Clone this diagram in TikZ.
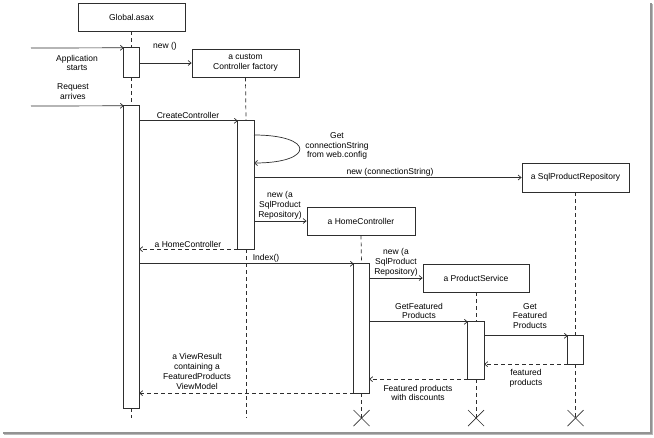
\documentclass[tikz,border=0pt]{standalone}
\usepackage{fontspec}
\setmainfont{Liberation Sans}
\usetikzlibrary{arrows.meta}
\definecolor{ln}{HTML}{2E2E2E}
\tikzset{
  obj/.style={draw=ln, line width=0.8pt, fill=white, rectangle, inner sep=0pt, align=center, font=\fontsize{8.5}{9.8}\selectfont},
  act/.style={draw=ln, line width=0.8pt, fill=white, rectangle, inner sep=0pt},
  life/.style={draw=ln, line width=0.7pt, dash pattern=on 4pt off 3pt},
  msg/.style={draw=ln, line width=0.7pt, -{Straight Barb[length=3pt,width=5pt]}},
  ret/.style={msg, dash pattern=on 4pt off 3pt},
  lbl/.style={align=center, inner sep=1pt, font=\fontsize{8.5}{9.8}\selectfont},
  xmark/.style={draw=ln, line width=0.7pt}
}
\begin{document}
\begin{tikzpicture}[x=1pt,y=-1pt]
\useasboundingbox (0,0) rectangle (654,437);
% frame shadow
\fill[gray!85] (650,3) rectangle (651.5,434);
\fill[gray!55] (651.5,4) rectangle (653,435);
\fill[gray!85] (3,432) rectangle (651.5,433.5);
\fill[gray!55] (4,433.5) rectangle (653,435);

% objects
\node[obj, minimum width=107pt, minimum height=28pt] (G) at (131.5,17) {Global.asax};
\node[obj, minimum width=107pt, minimum height=28pt] (F) at (245.5,63) {a custom\\Controller factory};
\node[obj, minimum width=107pt, minimum height=29pt] (R) at (575.5,177.5) {a SqlProductRepository};
\node[obj, minimum width=108pt, minimum height=28pt] (H) at (361,221) {a HomeController};
\node[obj, minimum width=106pt, minimum height=28pt] (P) at (476,278) {a ProductService};

% end coordinates
\coordinate (Gend) at (131.5,418);
\coordinate (Fend) at (246,418);
\coordinate (Hend) at (361.5,418);
\coordinate (Pend) at (476,418);
\coordinate (Rend) at (575.5,418);

% activation positions
\coordinate (cG1) at (131.5,62.5);
\coordinate (cG2) at (131.5,257);
\coordinate (cF) at (246,185);
\coordinate (cH) at (361.5,328.5);
\coordinate (cP) at (476,350.5);
\coordinate (cR) at (575.5,350);
\path (cG1) node[minimum width=15pt, minimum height=29pt, inner sep=0pt] (aG1) {};
\path (cG2) node[minimum width=15pt, minimum height=302pt, inner sep=0pt] (aG2) {};
\path (cF) node[minimum width=16pt, minimum height=128pt, inner sep=0pt] (aF) {};
\path (cH) node[minimum width=15pt, minimum height=129pt, inner sep=0pt] (aH) {};
\path (cP) node[minimum width=16pt, minimum height=57pt, inner sep=0pt] (aP) {};
\path (cR) node[minimum width=15pt, minimum height=28pt, inner sep=0pt] (aR) {};

% lifelines
\draw[life] (G.south) -- (aG1.north);
\draw[life] (aG1.south) -- (aG2.north);
\draw[life] (aG2.south) -- (Gend);
\draw[life] (F.south) -- (aF.north);
\draw[life] (aF.south) -- (Fend);
\draw[life] (H.south) -- (aH.north);
\draw[life] (aH.south) -- (Hend);
\draw[life] (P.south) -- (aP.north);
\draw[life] (aP.south) -- (Pend);
\draw[life] (R.south) -- (aR.north);
\draw[life] (aR.south) -- (Rend);

% activation boxes
\draw[act] (aG1.north west) rectangle (aG1.south east);
\draw[act] (aG2.north west) rectangle (aG2.south east);
\draw[act] (aF.north west) rectangle (aF.south east);
\draw[act] (aH.north west) rectangle (aH.south east);
\draw[act] (aP.north west) rectangle (aP.south east);
\draw[act] (aR.north west) rectangle (aR.south east);

% X marks
\foreach \c in {Hend,Pend,Rend}{
  \draw[xmark] ([shift={(-8,-8)}]\c) -- ([shift={(8,8)}]\c);
  \draw[xmark] ([shift={(-8,8)}]\c) -- ([shift={(8,-8)}]\c);
}

% incoming messages
\coordinate (in1) at (31,48);
\coordinate (in2) at (31,106);
\draw[msg] (in1) -- (aG1.north west);
\draw[msg] (in2) -- (aG2.north west);
\node[lbl] (l1) at (77,63) {Application\\starts};
\node[lbl] (l2) at (73,92) {Request\\arrives};

% new ()
\draw[msg] (aG1.east |- F.west) -- (F.west);
\node[lbl] (l3) at (165,46) {new ()};

% CreateController
\draw[msg] (aG2.east |- aF.north) -- (aF.north west);
\node[lbl] (l4) at (188,115) {CreateController};

% self loop
\coordinate (s1) at (254,135);
\coordinate (s2) at (254,163);
\draw[msg] (s1) .. controls (315,135) and (315,163) .. (s2);
\node[lbl] (l5) at (337,146) {Get\\connectionString\\from web.config};

% new (connectionString)
\draw[msg] (aF.east |- R.west) -- (R.west);
\node[lbl] (l6) at (390,172) {new (connectionString)};

% new HomeController
\draw[msg] (aF.east |- H.west) -- (H.west);
\node[lbl] (l7) at (280,205) {new (a\\SqlProduct\\Repository)};

% return a HomeController
\draw[ret] (aF.south west) -- (aG2.east |- aF.south);
\node[lbl] (l8) at (188,244) {a HomeController};

% Index()
\draw[msg] (aG2.east |- aH.north) -- (aH.north west);
\node[lbl] (l9) at (266,258) {Index()};

% new ProductService
\draw[msg] (aH.east |- P.west) -- (P.west);
\node[lbl] (l10) at (396,262) {new (a\\SqlProduct\\Repository)};

% GetFeaturedProducts
\draw[msg] (aH.east |- aP.north) -- (aP.north west);
\node[lbl, fill=white, inner xsep=3pt] (l11) at (419,311) {GetFeatured\\Products};

% Get Featured Products
\draw[msg] (aP.east |- aR.north) -- (aR.north west);
\node[lbl] (l12) at (530,316) {Get\\Featured\\Products};

% featured products return
\draw[ret] (aR.south west) -- (aP.east |- aR.south);
\node[lbl] (l13) at (526,378.5) {featured\\products};

% Featured products with discounts
\draw[ret] (aP.south west) -- (aH.east |- aP.south);
\node[lbl] (l14) at (418,393) {Featured products\\with discounts};

% ViewResult
\draw[ret] (aH.south west) -- (aG2.east |- aH.south);
\node[lbl] (l15) at (197,371.5) {a ViewResult\\containing a\\FeaturedProducts\\ViewModel};
\end{tikzpicture}
\end{document}
